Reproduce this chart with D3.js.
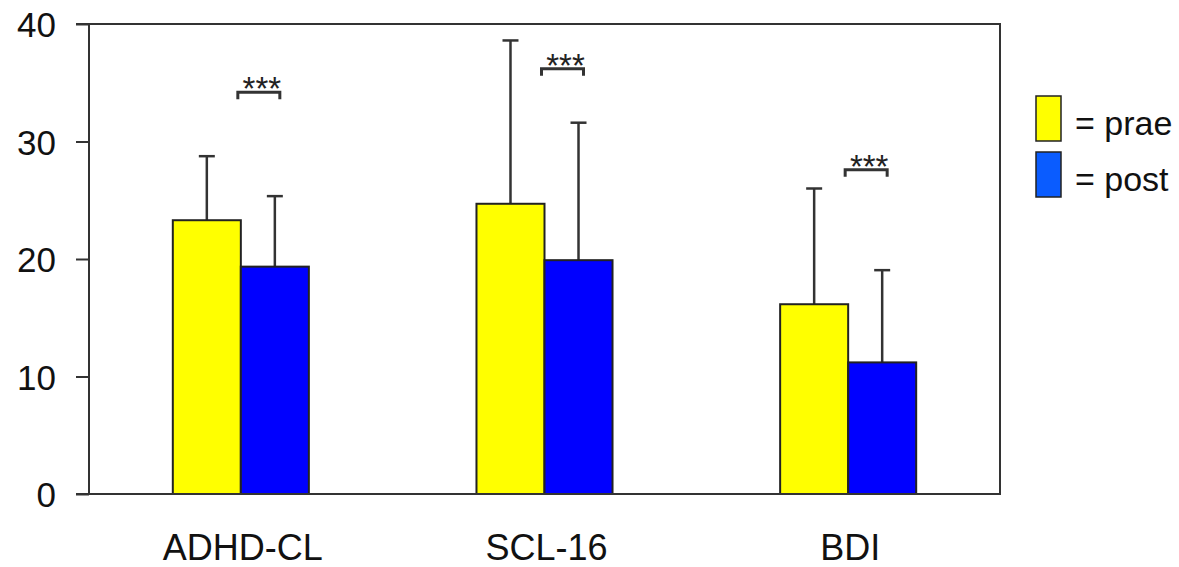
<!DOCTYPE html>
<html>
<head>
<meta charset="utf-8">
<script src="https://cdn.jsdelivr.net/npm/d3@7"></script>
<style>
html,body{margin:0;padding:0;background:#fff;}
svg{display:block;font-family:"Liberation Sans",Arial,sans-serif;}
</style>
</head>
<body>
<svg id="chart" width="1179" height="567"></svg>
<script>
const categories = ["ADHD-CL", "SCL-16", "BDI"];
const seriesNames = ["prae", "post"];
const praeValues = [23.3, 24.7, 16.15];
const postValues = [19.35, 19.9, 11.2];
const praeSD = [5.45, 13.9, 9.85];
const postSD = [6.0, 11.7, 7.85];
const sigLevels = [34.2, 36.2, 27.6];
const sigLabels = ["***", "***", "***"];
const yTicks = [0, 10, 20, 30, 40];

(function () {
const svg = d3.select("#chart");
const mLeft = 89, mRight = 1000, mTop = 24, mBottom = 494;

const x = d3.scaleBand().domain(categories).range([mLeft, mRight]).padding(0);
const y = d3.scaleLinear().domain([0, 40]).range([mBottom, mTop]);
const barW = x.bandwidth() * 0.224;

const barColors = ["#ffff00", "#0000ff"];
const legendColors = ["#ffff00", "#0a5cff"];
const lineCol = "#333";

const series = [praeValues, postValues];
const sds = [praeSD, postSD];
const g = svg.append("g");
series.forEach((vals, s) => {
  vals.forEach((v, i) => {
    const cx = x(categories[i]) + x.bandwidth() / 2 + (s === 0 ? -barW / 2 : barW / 2);
    g.append("line").attr("x1", cx).attr("x2", cx)
      .attr("y1", y(v)).attr("y2", y(v + sds[s][i]))
      .attr("stroke", lineCol).attr("stroke-width", 2.5);
    g.append("line").attr("x1", cx - 8).attr("x2", cx + 8)
      .attr("y1", y(v + sds[s][i])).attr("y2", y(v + sds[s][i]))
      .attr("stroke", lineCol).attr("stroke-width", 2.5);
  });
});

series.forEach((vals, s) => {
  g.selectAll(".bar" + s).data(vals).enter().append("rect")
    .attr("x", (d, i) => x(categories[i]) + x.bandwidth() / 2 + (s === 0 ? -barW : 0))
    .attr("y", d => y(d))
    .attr("width", barW)
    .attr("height", d => y(0) - y(d))
    .attr("fill", barColors[s])
    .attr("stroke", "#222").attr("stroke-width", 2);
});

sigLevels.forEach((lv, i) => {
  const x0 = x(categories[i]) + x.bandwidth() / 2 - 3;
  const x1 = x0 + 42;
  const yy = y(lv);
  g.append("path")
    .attr("d", `M${x0},${yy + 7}V${yy}H${x1}V${yy + 7}`)
    .attr("fill", "none").attr("stroke", lineCol).attr("stroke-width", 3);
  g.append("text").attr("x", (x0 + x1) / 2 + 3).attr("y", yy + 8)
    .attr("text-anchor", "middle").attr("font-size", 33).attr("fill", "#222")
    .text(sigLabels[i]);
});

svg.append("path")
  .attr("d", `M${mLeft - 13},${mTop}H${mRight}V${mBottom}H${mLeft - 13}`)
  .attr("fill", "none").attr("stroke", lineCol).attr("stroke-width", 2);
svg.append("line").attr("x1", mLeft).attr("x2", mLeft).attr("y1", mTop).attr("y2", mBottom)
  .attr("stroke", lineCol).attr("stroke-width", 2);

const yAxis = d3.axisLeft(y).tickValues(yTicks).tickSize(13).tickPadding(20);
const ya = svg.append("g").attr("transform", `translate(${mLeft},0)`).call(yAxis);
ya.select(".domain").remove();
ya.selectAll(".tick line").attr("stroke", lineCol).attr("stroke-width", 2);
ya.selectAll(".tick text").attr("font-size", 35).attr("fill", "#111")
  .attr("font-family", "Liberation Sans, Arial, sans-serif").attr("dy", "0.36em");

const xAxis = d3.axisBottom(x).tickSize(0).tickPadding(40);
const xa = svg.append("g").attr("transform", `translate(0,${mBottom})`).call(xAxis);
xa.select(".domain").remove();
xa.selectAll(".tick text").attr("font-size", 36).attr("fill", "#111")
  .attr("font-family", "Liberation Sans, Arial, sans-serif").attr("dy", "0.71em")
  .attr("transform", "translate(2,0)");

const leg = svg.append("g");
seriesNames.forEach((n, i) => {
  const ly = 96 + i * 56;
  leg.append("rect").attr("x", 1036).attr("y", ly).attr("width", 25).attr("height", 45)
    .attr("fill", legendColors[i]).attr("stroke", "#222").attr("stroke-width", 1.5);
  leg.append("text").attr("x", 1075).attr("y", ly + 39).attr("font-size", 34).attr("fill", "#111")
    .text("= " + n);
});
})();
</script>
</body>
</html>
